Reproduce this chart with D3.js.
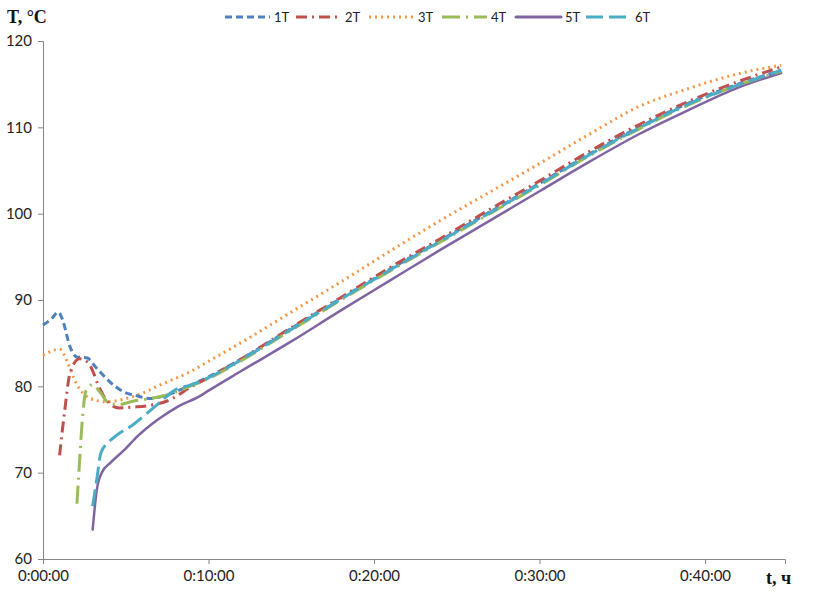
<!DOCTYPE html>
<html>
<head>
<meta charset="utf-8">
<script src="https://cdn.jsdelivr.net/npm/d3@7"></script>
<style>
  html, body { margin: 0; padding: 0; background: #fff; }
  svg { display: block; }
</style>
</head>
<body>
<svg id="chart" width="816" height="594"></svg>
<script>
// ---- DATA (time in minutes, temperature in °C) ----
const seriesNames = ["1T", "2T", "3T", "4T", "5T", "6T"];
const xTickValues = [0, 10, 20, 30, 40];
const yTickValues = [60, 70, 80, 90, 100, 110, 120];

const t1 = [0, 0.5, 0.93, 1.2, 1.63, 2.04, 2.64, 3.24, 4.05, 4.83, 5.66, 6.46, 7.47, 9, 10, 12, 15, 18, 21, 24, 27, 30, 33, 36, 39, 42, 44.6];
const v1 = [87.1, 87.8, 88.6, 87.6, 84.6, 83.4, 83.3, 82.1, 80.5, 79.4, 78.9, 78.6, 79.0, 80.2, 81.1, 83.2, 86.7, 90.2, 93.6, 96.9, 100.2, 103.5, 106.9, 110.0, 112.8, 115.0, 116.6];

const t2 = [1.0, 1.3, 1.63, 2.2, 2.7, 3.0, 3.3, 3.8, 4.6, 5.5, 6.5, 7.5, 9, 10, 12, 15, 18, 21, 24, 27, 30, 33, 36, 39, 42, 44.6];
const v2 = [72.0, 77.0, 81.5, 83.2, 82.8, 81.8, 80.3, 78.5, 77.5, 77.6, 77.8, 78.3, 80.0, 81.0, 83.2, 86.8, 90.3, 93.8, 97.1, 100.5, 103.8, 107.2, 110.3, 113.0, 115.3, 117.0];

const t3 = [0, 1.0, 1.5, 1.85, 2.25, 2.85, 3.85, 4.85, 5.9, 6.9, 9, 10, 12, 15, 18, 21, 24, 27, 30, 33, 36, 39, 42, 44.6];
const v3 = [83.6, 84.3, 82.7, 81.0, 79.6, 78.6, 78.2, 78.5, 79.1, 80.0, 81.8, 82.9, 85.1, 88.6, 92.1, 95.7, 99.2, 102.5, 105.8, 109.2, 112.4, 114.5, 116.2, 117.2];

const t4 = [2.05, 2.2, 2.35, 2.6, 3.0, 3.5, 4.0, 4.6, 5.5, 6.5, 7.5, 9, 10, 12, 15, 18, 21, 24, 27, 30, 33, 36, 39, 42, 44.6];
const v4 = [66.4, 71.0, 75.5, 79.5, 80.2, 79.2, 78.0, 77.9, 78.3, 78.6, 79.0, 80.1, 80.9, 83.0, 86.5, 90.0, 93.4, 96.7, 100.0, 103.3, 106.7, 109.8, 112.6, 114.9, 116.5];

const t5 = [3.0, 3.25, 3.55, 4.1, 4.9, 5.7, 6.9, 8.1, 9.5, 10, 12, 15, 18, 21, 24, 27, 30, 33, 36, 39, 42, 44.6];
const v5 = [63.4, 68.0, 70.0, 71.2, 72.6, 74.2, 76.1, 77.6, 78.9, 79.5, 81.8, 85.2, 88.8, 92.3, 95.8, 99.2, 102.6, 106.0, 109.2, 112.0, 114.6, 116.3];

const t6 = [3.0, 3.25, 3.5, 4.0, 4.5, 5.4, 6.3, 7.1, 7.9, 9, 10, 12, 15, 18, 21, 24, 27, 30, 33, 36, 39, 42, 44.6];
const v6 = [66.1, 69.2, 72.3, 73.6, 74.4, 75.5, 76.9, 78.2, 79.5, 80.2, 81.0, 83.1, 86.6, 90.1, 93.5, 96.8, 100.1, 103.4, 106.8, 109.9, 112.7, 114.9, 116.6];

const seriesTimes = [t1, t2, t3, t4, t5, t6];
const seriesValues = [v1, v2, v3, v4, v5, v6];

// ---- STYLES ----
const colors = ["#4F81BD", "#C0504D", "#F79646", "#9BBB59", "#8064A2", "#4BACC6"];
const dashes = ["7 4", "11 5 2 5", "2 4", "18 6 2 6", null, "17 6"];
const caps = ["butt", "butt", "butt", "butt", "round", "butt"];

const svg = d3.select("#chart");
const margin = { left: 43, right: 31, top: 41, bottom: 35 };
const W = 816, H = 594;

const x = d3.scaleLinear().domain([0, 44.83]).range([43, 785]);
const y = d3.scaleLinear().domain([60, 120]).range([559, 41]);

const axisColor = "#868686";
const tickFont = "Lato, 'Liberation Sans', sans-serif";

// Y axis
const yAxis = svg.append("g").attr("transform", `translate(${x(0)},0)`)
  .call(d3.axisLeft(y).tickValues(yTickValues).tickSize(5).tickPadding(6).tickFormat(d3.format("d")));
yAxis.select(".domain").attr("stroke", axisColor);
yAxis.selectAll(".tick line").attr("stroke", axisColor);
yAxis.selectAll(".tick text").attr("fill", "#222").style("font-family", tickFont).style("font-size", "15px");

// X axis
const fmtTime = m => `0:${String(m).padStart(2, "0")}:00`;
const xAxis = svg.append("g").attr("transform", `translate(0,${y(60)})`)
  .call(d3.axisBottom(x).tickValues(xTickValues).tickSize(5).tickPadding(6).tickFormat(fmtTime));
xAxis.select(".domain").attr("stroke", axisColor);
xAxis.selectAll(".tick line").attr("stroke", axisColor);
xAxis.selectAll(".tick text").attr("fill", "#222").style("font-family", tickFont).style("font-size", "15px");

// Axis titles
svg.append("text").attr("x", 7).attr("y", 23)
  .style("font-family", "'Liberation Serif', serif").style("font-weight", "bold").style("font-size", "18px")
  .attr("fill", "#111").text("T, °C");
svg.append("text").attr("x", 766).attr("y", 584)
  .style("font-family", "'Liberation Serif', serif").style("font-weight", "bold").style("font-size", "18px")
  .attr("fill", "#111").text("t, ч");

// Lines
const line = d3.line().x(d => x(d[0])).y(d => y(d[1])).curve(d3.curveMonotoneX);
const drawOrder = [4, 2, 0, 1, 3, 5];
drawOrder.forEach(i => {
  const pts = seriesTimes[i].map((t, k) => [t, seriesValues[i][k]]);
  svg.append("path").datum(pts)
    .attr("d", line)
    .attr("fill", "none")
    .attr("stroke", colors[i])
    .attr("stroke-width", i === 4 ? 2.5 : 3)
    .attr("stroke-dasharray", dashes[i])
    .attr("stroke-linecap", caps[i])
    .attr("stroke-linejoin", "round");
});

// Legend
const legendX = [225, 296, 369, 442, 516, 586];
const legend = svg.append("g");
seriesNames.forEach((name, i) => {
  const gx = legendX[i];
  legend.append("line").attr("x1", gx).attr("x2", gx + 45).attr("y1", 17).attr("y2", 17)
    .attr("stroke", colors[i]).attr("stroke-width", 3)
    .attr("stroke-dasharray", dashes[i]).attr("stroke-linecap", caps[i]);
  legend.append("text").attr("x", gx + 49).attr("y", 22)
    .style("font-family", tickFont).style("font-size", "13px").attr("fill", "#222").text(name);
});
</script>
</body>
</html>
